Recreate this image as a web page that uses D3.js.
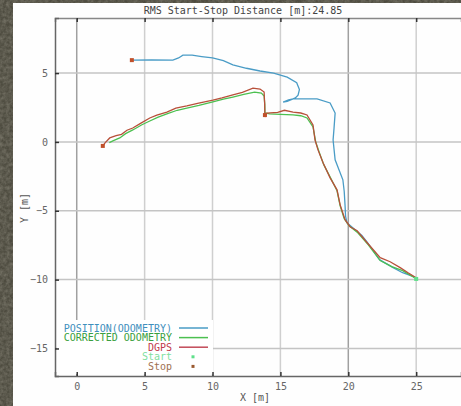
<!DOCTYPE html>
<html>
<head>
<meta charset="utf-8">
<script src="https://cdnjs.cloudflare.com/ajax/libs/d3/7.8.5/d3.min.js"></script>
<style>
  body { margin: 0; background: #fff; }
  text { font-family: 'DejaVu Sans Mono', monospace; font-size: 10px; }
</style>
</head>
<body>
<svg id="chart" width="461" height="406"></svg>
<script>
// data (metres)
var odometry = [[4.06,5.94],[5.5,5.96],[7.08,5.94],[7.5,6.1],[7.82,6.3],[8.5,6.3],[9.2,6.2],[10.0,6.1],
  [10.8,5.9],[11.5,5.6],[12.5,5.35],[13.5,5.15],[14.5,5.0],[15.5,4.7],[16.2,4.3],[16.4,3.8],[16.3,3.4],
  [16.1,3.2],[15.5,2.95],[15.2,2.9],[15.6,3.05],[15.93,3.12],[17.7,3.12],[18.66,2.83],[19.03,2.1],
  [18.95,1.0],[18.88,0.14],[19.03,-1.3],[19.6,-2.75],[19.7,-3.6],[19.76,-4.6],[19.8,-5.4],[19.9,-5.87],
  [20.5,-6.38],[21.0,-6.8],[21.4,-7.3],[22.3,-8.55],[23.3,-9.13],[24.0,-9.5],[24.8,-9.78],[25.0,-9.9]];

var corrected = [[2.4,-0.05],[2.7,0.1],[3.17,0.29],[3.6,0.6],[4.13,0.87],[4.8,1.25],[5.38,1.52],[6.0,1.8],
  [6.64,2.03],[7.4,2.3],[8.11,2.46],[9.0,2.65],[10.03,2.9],[10.8,3.1],[11.5,3.26],[12.3,3.45],[13.1,3.62],
  [13.6,3.55],[13.8,3.33],[13.85,2.7],[13.86,2.1],[14.2,2.03],[15.0,2.0],[15.93,1.96],[16.5,1.9],[16.96,1.74],
  [17.4,1.09],[17.6,0.0],[17.85,-0.72],[18.2,-1.67],[18.73,-2.68],[19.17,-3.55],[19.4,-4.64],[19.7,-5.58],
  [20.06,-6.09],[20.7,-6.6],[21.46,-7.46],[22.35,-8.62],[23.2,-9.06],[24.0,-9.35],[25.0,-9.93]];

var dgps = [[1.92,-0.29],[2.1,-0.05],[2.43,0.29],[2.9,0.45],[3.3,0.55],[3.7,0.85],[4.13,1.01],[4.7,1.35],
  [5.38,1.74],[5.9,1.95],[6.64,2.17],[7.3,2.45],[8.11,2.61],[8.9,2.8],[10.03,3.04],[10.7,3.2],[11.5,3.41],
  [12.2,3.6],[12.98,3.91],[13.5,3.84],[13.8,3.62],[13.84,2.8],[13.86,1.81],[14.0,2.1],[14.8,2.15],
  [15.3,2.3],[15.93,2.17],[16.5,2.1],[16.96,1.96],[17.4,1.23],[17.55,0.14],[17.77,-0.58],[18.14,-1.52],
  [18.66,-2.61],[19.17,-3.48],[19.4,-4.57],[19.76,-5.65],[20.13,-6.16],[20.65,-6.45],[21.39,-7.32],
  [22.35,-8.41],[23.08,-8.7],[23.82,-9.13],[24.4,-9.5],[25.0,-9.86]];

var startPoints = [[25.0,-9.95]];
var stopPoints = [[4.06,5.94],[1.92,-0.29],[13.86,1.95]];

var xTicks = [0, 5, 10, 15, 20, 25];
var yTicks = [5, 0, -5, -10, -15];

var legendItems = [
  {label: "POSITION(ODOMETRY)", color: "#4a9cc6", text: "#3f8fbd", kind: "line"},
  {label: "CORRECTED ODOMETRY", color: "#4cc050", text: "#3a9f40", kind: "line"},
  {label: "DGPS", color: "#c24a58", text: "#c03a4a", kind: "line"},
  {label: "Start", color: "#5fe08a", text: "#7fe0a0", kind: "dot"},
  {label: "Stop", color: "#9a5a30", text: "#a07050", kind: "dot"}
];

var svg = d3.select("#chart");

// stone-like backdrop
var defs = svg.append("defs");
var f = defs.append("filter").attr("id", "stone").attr("x", 0).attr("y", 0).attr("width", 1).attr("height", 1);
f.append("feTurbulence").attr("type", "fractalNoise").attr("baseFrequency", 0.3).attr("numOctaves", 3).attr("result", "n");
f.append("feColorMatrix").attr("type", "matrix")
  .attr("values", "0 0 0 0 0.2  0 0 0 0 0.19  0 0 0 0 0.15  0 0 0 -1.6 1.2");
svg.append("rect").attr("width", 461).attr("height", 406).attr("fill", "#4e4c40");
svg.append("rect").attr("width", 461).attr("height", 406).attr("fill", "#000").attr("filter", "url(#stone)").attr("opacity", 0.8);
svg.append("rect").attr("x", 13).attr("y", 3).attr("width", 448).attr("height", 403).attr("fill", "#fefefe");

var x = d3.scaleLinear().domain([-1.6, 28.3]).range([55, 461]);
var y = d3.scaleLinear().domain([-17, 9]).range([376, 18]);

// grid
svg.append("g").selectAll("line").data(xTicks).enter().append("line")
  .attr("x1", d => x(d)).attr("x2", d => x(d)).attr("y1", 18).attr("y2", 376)
  .attr("stroke", d => (d === 0 || d === 20) ? "#a0a0a0" : "#cfcfcf").attr("stroke-width", 1.5);
svg.append("g").selectAll("line").data(yTicks).enter().append("line")
  .attr("x1", 55).attr("x2", 461).attr("y1", d => y(d)).attr("y2", d => y(d))
  .attr("stroke", "#c4c4c4").attr("stroke-width", 1.5);

// legend background box hides grid underneath
svg.append("rect").attr("x", 57).attr("y", 320).attr("width", 156).attr("height", 54).attr("fill", "#fff");

// axes
var xAxis = svg.append("g").attr("transform", "translate(0,376)")
  .call(d3.axisBottom(x).tickValues(xTicks).tickSize(-4).tickPadding(7));
var xTop = svg.append("g").attr("transform", "translate(0,18)")
  .call(d3.axisTop(x).tickValues(xTicks).tickSize(-4).tickFormat(""));
var yAxis = svg.append("g").attr("transform", "translate(55,0)")
  .call(d3.axisLeft(y).tickValues(yTicks).tickSize(-4).tickPadding(7).tickFormat(d3.format("d")));
[xAxis, xTop, yAxis].forEach(function (g) {
  g.select(".domain").attr("stroke", "#666").attr("stroke-width", 1.5);
  g.selectAll(".tick line").attr("stroke", "#333").attr("stroke-width", 1.5);
  g.selectAll(".tick text").attr("fill", "#666").style("font-family", "'DejaVu Sans Mono', monospace").style("font-size", "10px");
});
xTop.select(".domain").attr("stroke", "#888");

// labels
svg.append("text").attr("x", 243).attr("y", 14).attr("text-anchor", "middle").attr("fill", "#444")
  .text("RMS Start-Stop Distance [m]:24.85");
svg.append("text").attr("x", 255).attr("y", 401).attr("text-anchor", "middle").attr("fill", "#555").text("X [m]");
svg.append("text").attr("transform", "translate(28,208) rotate(-90)").attr("text-anchor", "middle").attr("fill", "#555").text("Y [m]");

// tracks
var line = d3.line().x(d => x(d[0])).y(d => y(d[1]));
svg.append("path").datum(odometry).attr("d", line).attr("fill", "none").attr("stroke", "#4a9cc6").attr("stroke-width", 1.3);
svg.append("path").datum(corrected).attr("d", line).attr("fill", "none").attr("stroke", "#4cc050").attr("stroke-width", 1.3);
svg.append("path").datum(dgps).attr("d", line).attr("fill", "none").attr("stroke", "#b8503a").attr("stroke-width", 1.3);

svg.append("g").selectAll("rect").data(startPoints).enter().append("rect")
  .attr("x", d => x(d[0]) - 2).attr("y", d => y(d[1]) - 2).attr("width", 4).attr("height", 4).attr("fill", "#5fe08a");
svg.append("g").selectAll("rect").data(stopPoints).enter().append("rect")
  .attr("x", d => x(d[0]) - 2).attr("y", d => y(d[1]) - 2).attr("width", 4).attr("height", 4).attr("fill", "#c0502a");

// legend
var lg = svg.append("g").selectAll("g").data(legendItems).enter().append("g")
  .attr("transform", (d, i) => "translate(0," + (328 + i * 9.6) + ")");
lg.append("text").attr("x", 172).attr("y", 3.5).attr("text-anchor", "end").attr("fill", d => d.text).text(d => d.label);
lg.filter(d => d.kind === "line").append("line")
  .attr("x1", 179).attr("x2", 208).attr("stroke", d => d.color).attr("stroke-width", 1.5);
lg.filter(d => d.kind === "dot").append("rect")
  .attr("x", 191.5).attr("y", -1.5).attr("width", 3).attr("height", 3).attr("fill", d => d.color);
</script>
</body>
</html>
